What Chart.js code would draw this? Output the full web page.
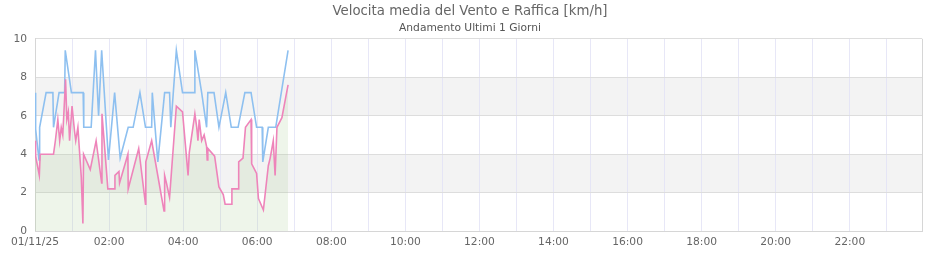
<!DOCTYPE html>
<html>
<head>
<meta charset="utf-8">
<script src="https://cdn.jsdelivr.net/npm/chart.js@4.4.1/dist/chart.umd.min.js"></script>
<style>
  html, body { margin: 0; padding: 0; background: #fff; }
  #wrap { width: 940px; height: 260px; }
</style>
</head>
<body>
<div id="wrap"><canvas id="ventoChart"></canvas></div>
<script>
// minuti dalla mezzanotte del 01/11/25
const raffMin = [0, 1, 6.5, 7.5, 18, 29, 30, 39, 48, 49, 59, 78, 79, 91, 98, 103, 108, 119, 129, 138,
  151, 159, 170, 179, 189, 190, 199, 210, 218, 220, 229, 239, 258, 259, 270, 278, 280, 290, 298, 309,
  318, 329, 340, 350, 359, 368, 369, 378, 390, 410];
const raffVal = [7.2, 5.3, 3.7, 5.4, 7.2, 7.2, 5.4, 7.2, 7.2, 9.4, 7.2, 7.2, 5.4, 5.4, 9.4, 6.0, 9.4, 3.7, 7.2, 3.8,
  5.4, 5.4, 7.2, 5.4, 5.4, 7.2, 3.6, 7.2, 7.2, 5.4, 9.4, 7.2, 7.2, 9.4, 7.2, 5.4, 7.2, 7.2, 5.4, 7.2,
  5.4, 5.4, 7.2, 7.2, 5.4, 5.4, 3.6, 5.4, 5.4, 9.4];

const mediaMin = [0, 1, 7, 8.4, 30, 33, 37, 40, 42.5, 45, 49.5, 51.6, 54, 56, 60, 64, 66, 69.5, 72, 75,
  77.6, 78.7, 89.5, 99, 108, 108.5, 112, 118, 129, 129.5, 136, 137, 150.5, 151, 168, 179, 179.5, 189, 209, 210,
  213, 218, 229, 239, 248, 250, 259, 262, 264, 266, 270, 274, 278, 279, 280, 291, 298, 305, 308, 318,
  319, 329, 330, 337, 341, 350, 351, 359, 362, 370, 378, 381, 386, 389, 392, 400, 410];
const mediaVal = [4.7, 3.9, 2.9, 4.0, 4.0, 4.7, 5.8, 4.7, 5.4, 5.0, 7.9, 5.8, 6.2, 4.7, 6.5, 5.2, 4.7, 5.4, 4.2, 2.8,
  0.4, 4.0, 3.2, 4.7, 2.5, 6.1, 4.7, 2.2, 2.2, 2.9, 3.1, 2.5, 4.0, 2.2, 4.3, 1.4, 3.6, 4.7, 1.05, 2.9,
  2.5, 1.75, 6.5, 6.2, 2.9, 4.1, 6.1, 5.4, 4.7, 5.8, 4.7, 5.0, 4.4, 3.7, 4.3, 3.9, 2.3, 1.9, 1.4, 1.4,
  2.2, 2.2, 3.6, 3.8, 5.4, 5.8, 3.5, 3.0, 1.7, 1.1, 3.4, 3.8, 4.7, 2.9, 5.4, 5.9, 7.6];

// etichette asse x, una per ora
const xTickLabels = ['01/11/25', '', '02:00', '', '04:00', '', '06:00', '', '08:00', '', '10:00', '',
  '12:00', '', '14:00', '', '16:00', '', '18:00', '', '20:00', '', '22:00', ''];
const yTicks = [0, 2, 4, 6, 8, 10];

const fontFam = "'DejaVu Sans', sans-serif";

// fasce grigie alternate + bordo destro, titoli centrati sulla tela
const bandPlugin = {
  id: 'bande',
  afterLayout(chart) {
    chart.boxes.forEach(b => {
      if (b.fullSize && b.options && typeof b.options.text === 'string') {
        b.left = 0;
        b.right = chart.width;
        b.width = chart.width;
      }
    });
  },
  beforeDraw(chart) {
    const { ctx, chartArea, scales } = chart;
    ctx.save();
    ctx.fillStyle = '#f3f3f3';
    for (let i = 1; i < yTicks.length - 1; i += 2) {
      const top = scales.y.getPixelForValue(yTicks[i + 1]);
      const bot = scales.y.getPixelForValue(yTicks[i]);
      ctx.fillRect(chartArea.left, top, chartArea.right - chartArea.left, bot - top);
    }
    ctx.restore();
  },
  afterDraw(chart) {
    const { ctx, chartArea } = chart;
    ctx.save();
    ctx.strokeStyle = '#d6d6d6';
    ctx.lineWidth = 1;
    ctx.beginPath();
    ctx.moveTo(Math.round(chartArea.right) + 0.5, chartArea.top);
    ctx.lineTo(Math.round(chartArea.right) + 0.5, chartArea.bottom);
    ctx.stroke();
    ctx.restore();
  }
};

const ctx = document.getElementById('ventoChart').getContext('2d');
new Chart(ctx, {
  type: 'line',
  data: {
    datasets: [{
      label: 'Velocita media',
      data: mediaMin.map((m, i) => ({ x: m, y: mediaVal[i] })),
      borderColor: 'rgb(238, 132, 186)',
      backgroundColor: 'rgba(170, 205, 150, 0.2)',
      borderWidth: 1.6,
      fill: 'origin',
      pointRadius: 0,
      tension: 0,
      order: 1
    }, {
      label: 'Raffica',
      data: raffMin.map((m, i) => ({ x: m, y: raffVal[i] })),
      borderColor: 'rgb(142, 192, 240)',
      borderWidth: 1.6,
      fill: false,
      pointRadius: 0,
      tension: 0,
      order: 2
    }]
  },
  options: {
    responsive: true,
    maintainAspectRatio: false,
    animation: false,
    layout: { padding: { left: 10, right: 18, top: 2, bottom: 6 } },
    plugins: {
      legend: { display: false },
      tooltip: { enabled: false },
      title: {
        display: true,
        text: 'Velocita media del Vento e Raffica [km/h]',
        color: '#666',
        font: { family: fontFam, size: 13.3, weight: 'normal' },
        padding: { top: 2, bottom: 2 }
      },
      subtitle: {
        display: true,
        text: 'Andamento Ultimi 1 Giorni',
        color: '#555',
        font: { family: fontFam, size: 10.7, weight: 'normal' },
        padding: { top: 0, bottom: 4 }
      }
    },
    scales: {
      x: {
        type: 'linear',
        min: 0,
        max: 1437,
        afterBuildTicks: axis => { axis.ticks = xTickLabels.map((_, i) => ({ value: i * 60 })); },
        afterFit: axis => { axis.paddingLeft = 0; axis.paddingRight = 0; },
        ticks: {
          autoSkip: false,
          maxRotation: 0,
          minRotation: 0,
          padding: 5,
          color: '#666',
          font: { family: fontFam, size: 10.7 },
          callback: v => xTickLabels[Math.round(v / 60)] || ''
        },
        grid: { color: 'rgba(225, 225, 245, 0.8)', drawTicks: false },
        border: { color: '#d6d6d6' }
      },
      y: {
        min: 0,
        max: 10,
        afterFit: axis => { axis.width = 25; },
        ticks: {
          stepSize: 2,
          padding: 8,
          color: '#666',
          font: { family: fontFam, size: 10.7 }
        },
        grid: { color: '#dddddd', drawTicks: false },
        border: { color: '#d6d6d6' }
      }
    }
  },
  plugins: [bandPlugin]
});
</script>
</body>
</html>
